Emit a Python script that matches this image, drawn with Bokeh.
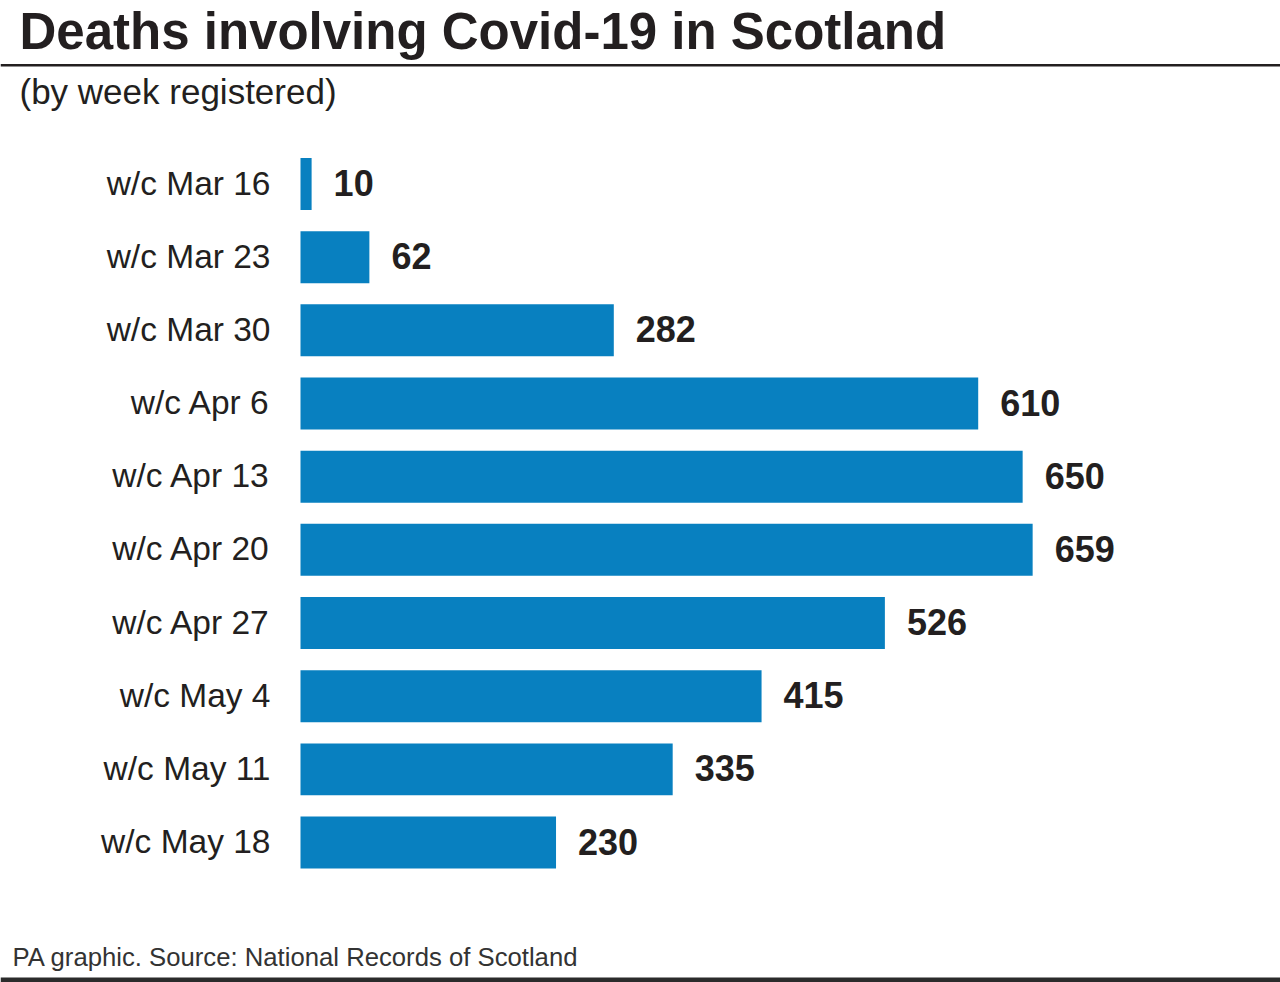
from bokeh.plotting import figure
from bokeh.models import ColumnDataSource, Range1d, Label, BoxAnnotation
from bokeh.core.properties import value
from bokeh.embed import file_html
from bokeh.resources import INLINE

# ---- data ----
weeks = ["w/c Mar 16", "w/c Mar 23", "w/c Mar 30", "w/c Apr 6", "w/c Apr 13",
         "w/c Apr 20", "w/c Apr 27", "w/c May 4", "w/c May 11", "w/c May 18"]
deaths = [10, 62, 282, 610, 650, 659, 526, 415, 335, 230]
title_text = "Deaths involving Covid-19 in Scotland"
subtitle_text = "(by week registered)"
footer_text = "PA graphic. Source: National Records of Scotland"

# ---- layout ----
W, H = 1280, 982
FONT = "Liberation Sans"
INK = "#231f20"
BLUE = "#0880c0"
k = 1.111          # pixels per death
x0 = 300           # pixel position of zero
row_px = 73.17
first_row = 183.5

src = ColumnDataSource(dict(
    y=list(range(len(weeks))),
    week=weeks,
    deaths=deaths,
    lab=[str(v) for v in deaths],
))

p = figure(width=W, height=H, output_backend="svg", toolbar_location=None,
           x_range=Range1d(-x0 / k, (W - x0) / k),
           y_range=Range1d((H - first_row) / row_px, -first_row / row_px),
           min_border=0, min_border_left=0, min_border_right=0,
           min_border_top=0, min_border_bottom=0)
p.axis.visible = False
p.grid.visible = False
p.outline_line_color = None
p.background_fill_color = "white"
p.border_fill_color = "white"

p.hbar(y="y", left=0, right="deaths", height=0.71, source=src,
       fill_color=BLUE, line_color=None)

p.text(x=0, y="y", text="week", source=src, x_offset=-30, y_offset=-1,
       text_align="right", text_baseline="middle",
       text_font=value(FONT), text_font_size="33.5px", text_color=INK)

p.text(x="deaths", y="y", text="lab", source=src, x_offset=22, y_offset=-1,
       text_align="left", text_baseline="middle",
       text_font=value(FONT), text_font_size="36px", text_font_style="bold",
       text_color=INK)

# title / subtitle / footer (screen units measured from bottom of canvas)
p.add_layout(Label(x=19, y=H - 30.5, x_units="screen", y_units="screen",
                   text=title_text, text_font=FONT, text_font_size="51px",
                   text_font_style="bold", text_color=INK,
                   text_baseline="alphabetic", text_align="left"))
p.add_layout(Label(x=19, y=H - 91, x_units="screen", y_units="screen",
                   text=subtitle_text, text_font=FONT, text_font_size="35px",
                   text_color=INK, text_baseline="alphabetic", text_align="left"))
p.add_layout(Label(x=12, y=H - 956, x_units="screen", y_units="screen",
                   text=footer_text, text_font=FONT, text_font_size="25.7px",
                   text_color="#333333", text_baseline="alphabetic",
                   text_align="left"))

# rules
p.add_layout(BoxAnnotation(top=H - 63.5, bottom=H - 66, top_units="screen",
                           bottom_units="screen", fill_color=INK, fill_alpha=1,
                           line_alpha=0))
p.add_layout(BoxAnnotation(top=5, bottom=0, top_units="screen",
                           bottom_units="screen", fill_color="#2b2b2b",
                           fill_alpha=1, line_alpha=0))

open("out.html", "w").write(file_html(p, INLINE))
